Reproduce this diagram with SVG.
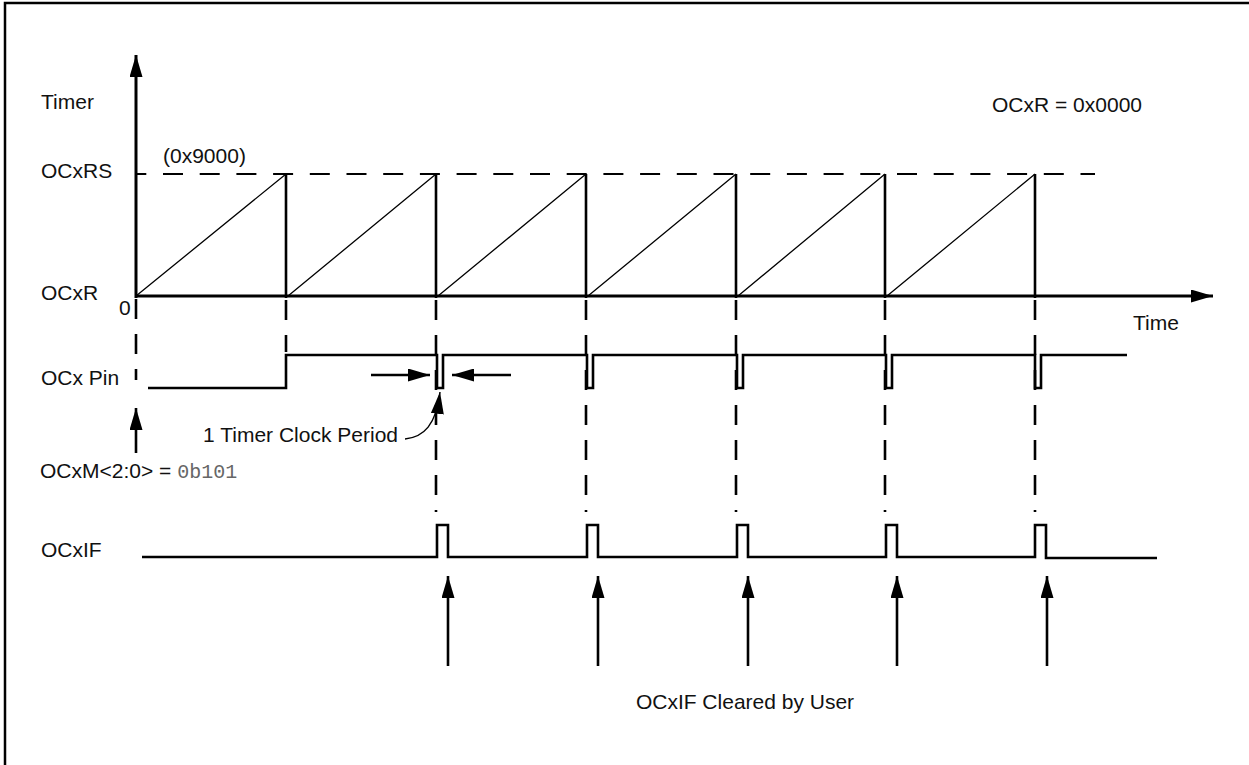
<svg xmlns="http://www.w3.org/2000/svg" width="1249" height="765" viewBox="0 0 1249 765">
<defs>
<style>
.t{font-family:"Liberation Sans",Arial,sans-serif;font-size:21px;fill:#111}
.m{font-family:"Liberation Mono","Courier New",monospace;font-size:20px;fill:#666}
.ax{stroke:#000;stroke-width:3;fill:none}
.rp{stroke:#000;stroke-width:1.3;fill:none}
.sg{stroke:#000;stroke-width:2.6;fill:none}
.vd{stroke:#000;stroke-width:2.6;fill:none;stroke-dasharray:20 15}
.hd{stroke:#000;stroke-width:2.2;fill:none;stroke-dasharray:20 16.7;stroke-dashoffset:10.7}
.ar{stroke:#000;stroke-width:2.6;fill:none;marker-end:url(#ah)}
</style>
<marker id="ah" viewBox="0 0 22 13" refX="22" refY="6.5" markerWidth="22" markerHeight="13" markerUnits="userSpaceOnUse" orient="auto">
<path d="M0,0 L22,6.5 L0,13 z" fill="#000"/>
</marker>
</defs>
<rect x="5" y="3" width="1270" height="790" fill="#fff" stroke="#000" stroke-width="2.5"/>

<g id="labels">
<text class="t" x="41" y="109">Timer</text>
<text class="t" x="163" y="163">(0x9000)</text>
<text class="t" x="41" y="178">OCxRS</text>
<text class="t" x="41" y="300">OCxR</text>
<text class="t" x="119" y="315">0</text>
<text class="t" x="992" y="112">OCxR = 0x0000</text>
<text class="t" x="1133" y="330">Time</text>
<text class="t" x="41" y="385">OCx Pin</text>
<text class="t" x="398" y="442" text-anchor="end">1 Timer Clock Period</text>
<text class="t" x="40" y="478">OCxM&lt;2:0&gt; = <tspan class="m">0b101</tspan></text>
<text class="t" x="41" y="557">OCxIF</text>
<text class="t" x="745" y="709" text-anchor="middle">OCxIF Cleared by User</text>
</g>

<g id="timer">
<line class="hd" x1="137" y1="174" x2="1095" y2="174"/>
<path class="rp" d="M136,296 L286,174 M288,296 L436,174 M438,296 L586,174 M588,296 L736,174 M738,296 L885,174 M887,296 L1035,174"/>
<path class="sg" d="M286,174 V298 M436,174 V298 M586,174 V298 M736,174 V298 M885,174 V298 M1035,174 V298"/>
</g>

<g id="guides">
<line class="vd" x1="136" y1="299" x2="136" y2="380"/>
<line class="vd" x1="286" y1="300" x2="286" y2="352"/>
<line class="vd" x1="436" y1="300" x2="436" y2="512"/>
<line class="vd" x1="586" y1="300" x2="586" y2="512"/>
<line class="vd" x1="736" y1="300" x2="736" y2="512"/>
<line class="vd" x1="885" y1="300" x2="885" y2="512"/>
<line class="vd" x1="1035" y1="300" x2="1035" y2="512"/>
</g>

<g id="ocx-pin">
<path class="sg" d="M148,388 H286 V355 H437 V388 H443 V355 H587 V388 H593 V355 H737 V388 H743 V355 H886 V388 H892 V355 H1035 V388 H1041 V355 H1127"/>
</g>

<g id="ocxif">
<path class="sg" d="M142,557 H437 V525 H448 V557 H587 V525 H598 V557 H737 V525 H748 V557 H886 V525 H897 V557 H1035 V525 H1046 V558 H1157"/>
</g>

<g id="connectors">
<line class="ax" x1="136" y1="298" x2="136" y2="55" marker-end="url(#ah)"/>
<line class="ax" x1="136" y1="296" x2="1213" y2="296" marker-end="url(#ah)"/>
<line class="ar" x1="371" y1="375" x2="430" y2="375"/>
<line class="ar" x1="511" y1="375" x2="452" y2="375"/>
<path d="M405,439 C424,437 436,425 440,392" stroke="#000" stroke-width="1.4" fill="none" marker-end="url(#ah)"/>
<line class="ar" x1="136" y1="453" x2="136" y2="408"/>
<line class="ar" x1="448" y1="666" x2="448" y2="576"/>
<line class="ar" x1="598" y1="666" x2="598" y2="576"/>
<line class="ar" x1="748" y1="666" x2="748" y2="576"/>
<line class="ar" x1="897" y1="666" x2="897" y2="576"/>
<line class="ar" x1="1047" y1="666" x2="1047" y2="576"/>
</g>
</svg>
